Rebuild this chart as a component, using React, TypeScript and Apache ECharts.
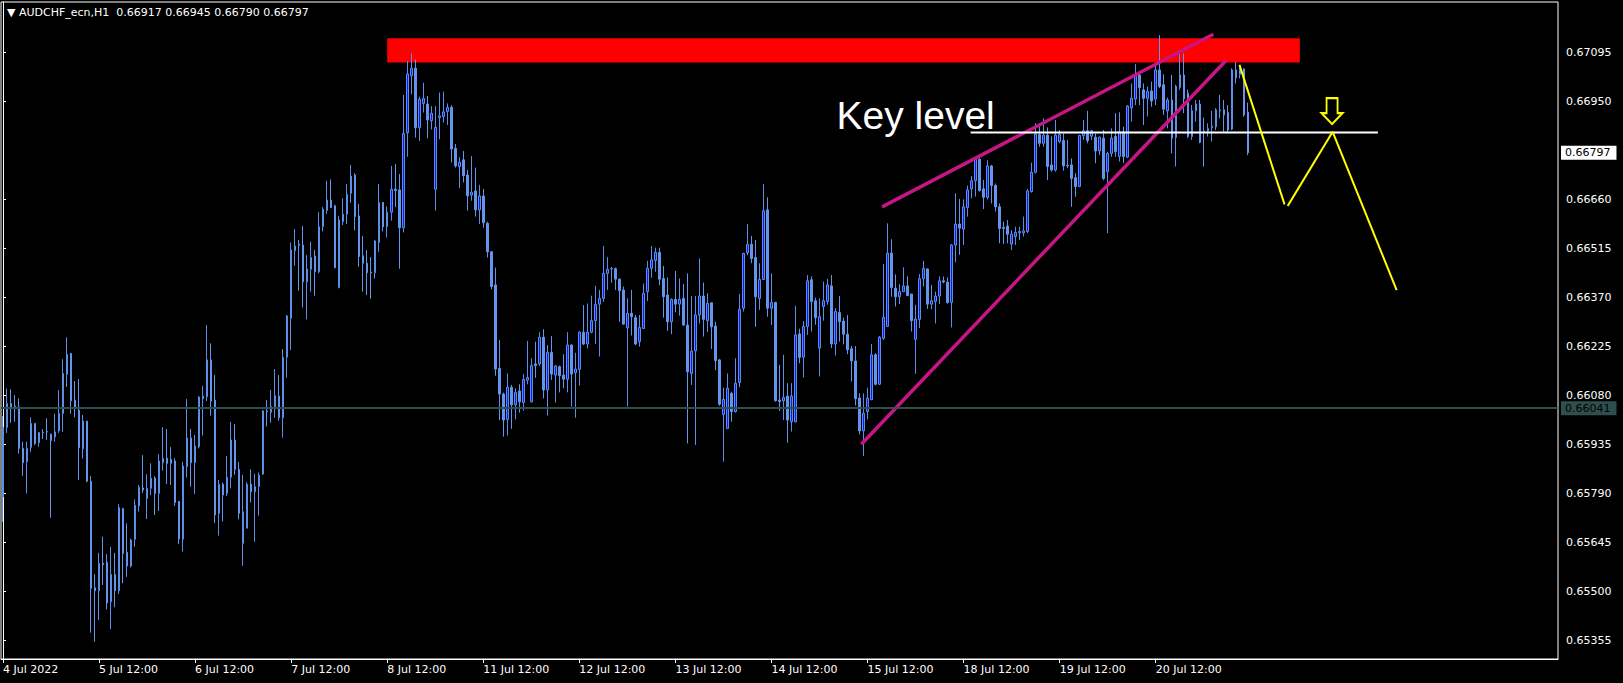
import React, { useEffect, useRef } from "react";
import * as echarts from "echarts";

// ---------- data (prices in points, 1 point = 0.00001) ----------
const symbolName = "AUDCHF_ecn,H1";
const POINT = 0.00001;

const open = [
65779,65984,66055,66047,66045,65922,65883,65925,65996,65939,65969,65972,65964,65956,65974,66025,66141,66203,66065,66035,
65921,66003,65825,65510,65501,65582,65585,65468,65549,65501,65744,65615,65574,65653,65752,65805,65774,65804,65834,65789,
65880,65893,65878,65885,65765,65653,65868,65953,65880,65927,66069,66075,66184,66065,65730,65816,65789,65837,65947,65860,
65641,65686,65816,65794,65809,65846,66033,66029,66046,66077,66013,66192,66307,66507,66526,66524,66415,66452,66491,66445,
66578,66626,66657,66640,66398,66593,66615,66677,66731,66610,66492,66470,66444,66442,66531,66650,66578,66621,66689,66687,
66575,66856,67025,67047,66871,66943,66941,66892,66689,66901,66904,66919,66931,66810,66756,66776,66731,66672,66684,66628,
66669,66588,66504,66406,66159,66083,66008,66103,66051,66092,66058,66124,66060,66172,66172,66251,66095,66206,66139,66164,
66139,66127,66228,66146,66156,66266,66231,66266,66300,66349,66366,66440,66453,66454,66423,66391,66279,66322,66309,66238,
66277,66386,66455,66478,66502,66425,66376,66297,66363,66349,66366,66287,66144,66211,66317,66373,66300,66353,66284,66184,
66023,65981,66085,66031,66117,66337,66501,66526,66487,66366,66422,66628,66337,66354,66065,66063,66077,66001,66001,66261,
66192,66283,66421,66359,66219,66342,66357,66403,66231,66324,66299,66260,66217,66181,66071,65974,66031,66066,66199,66112,
66248,66283,66500,66396,66371,66386,66403,66379,66245,66304,66424,66453,66349,66357,66373,66418,66414,66354,66524,66586,
66571,66635,66690,66714,66778,66690,66665,66758,66700,66637,66576,66580,66527,66549,66560,66560,66564,66682,66739,66851,
66825,66849,66761,66746,66830,66833,66758,66761,66723,66697,66847,66862,66846,66843,66802,66840,66741,66795,66845,66786,
66859,66784,66930,66956,67027,66983,66958,66980,66956,67042,66998,66921,66953,66842,66990,67027,66973,66845,66921,66941,
66861,66861,66871,66874,66921,66924,66916,66867,67042,67029,67045,66917
];
const high = [
66018,66099,66097,66080,66070,65942,65942,66014,65996,65971,65979,66011,65966,66025,66095,66186,66251,66205,66121,66127,
66021,66003,65840,65550,65613,65661,65609,65631,65613,65757,65746,65700,65655,65771,65814,65902,65846,65878,65840,65905,
65985,65980,65926,65893,65767,65883,66068,65980,65962,66077,66107,66287,66233,66139,65829,65821,65900,66001,65994,65882,
65844,65822,65860,65847,65851,66036,66065,66095,66157,66139,66216,66317,66531,66571,66539,66580,66494,66534,66509,66621,
66636,66714,66718,66643,66610,66662,66704,66761,66736,66645,66551,66509,66488,66539,66705,66651,66638,66758,66764,66734,
66968,67068,67091,67073,66963,67004,66965,66935,66935,66975,66978,66943,66938,66823,66784,66802,66746,66787,66753,66702,
66690,66593,66506,66457,66243,66087,66144,66110,66100,66112,66142,66240,66189,66238,66266,66275,66228,66255,66169,66167,
66201,66266,66230,66205,66269,66346,66351,66374,66403,66391,66521,66488,66459,66457,66425,66401,66366,66391,66317,66317,
66410,66477,66521,66516,66516,66462,66428,66366,66447,66425,66408,66440,66373,66373,66484,66413,66381,66353,66297,66187,
66102,66144,66090,66189,66379,66501,66586,66551,66539,66470,66704,66665,66440,66356,66169,66199,66115,66115,66344,66276,
66299,66435,66431,66368,66366,66416,66424,66435,66337,66373,66309,66317,66225,66225,66085,66085,66102,66231,66204,66255,
66468,66588,66541,66437,66408,66458,66431,66379,66347,66438,66477,66455,66406,66386,66431,66431,66428,66527,66677,66660,
66659,66700,66728,66780,66780,66716,66775,66761,66706,66647,66593,66598,66568,66578,66578,66608,66690,66768,66884,66884,
66899,66872,66845,66894,66864,66854,66835,66780,66736,66850,66894,66921,66864,66854,66845,66864,66800,66869,66914,66917,
66874,66938,67002,67059,67032,67002,66993,67007,67059,67145,67029,66960,67027,66998,67091,67091,66983,66938,66953,66953,
66901,66884,66921,66929,66968,66953,66938,67047,67065,67052,67047,66945
];
const low = [
65705,65968,65998,66001,65907,65841,65789,65912,65932,65927,65950,65947,65717,65942,65968,65971,66104,66025,66014,65829,
65892,65822,65377,65350,65414,65518,65446,65387,65452,65491,65523,65542,65570,65631,65735,65791,65713,65784,65725,65737,
65856,65817,65814,65752,65639,65617,65836,65809,65787,65922,65960,66062,66019,65701,65664,65706,65781,65804,65844,65712,
65575,65686,65762,65646,65723,65844,65987,65998,66013,66004,65954,66131,66213,66463,66389,66339,66304,66386,66374,66440,
66564,66616,66633,66455,66396,66583,66586,66649,66567,66460,66386,66376,66365,66425,66504,66564,66546,66596,66636,66454,
66561,66785,66970,66842,66832,66916,66840,66866,66626,66837,66886,66879,66768,66753,66692,66709,66626,66655,66608,66586,
66575,66487,66393,66137,66006,65957,65960,65980,66008,66028,66034,66112,66058,66131,66166,66070,66019,66125,66058,66088,
66100,66088,66046,66013,66108,66228,66218,66263,66231,66194,66356,66391,66412,66391,66297,66288,66046,66256,66228,66223,
66275,66358,66427,66445,66405,66309,66270,66260,66325,66315,66285,65937,66110,65932,66292,66253,66267,66216,66154,66048,
65883,65981,66001,66028,66103,66327,66494,66470,66282,66332,66420,66312,66287,66061,66033,66006,65939,65972,65999,66174,
66132,66258,66268,66288,66135,66300,66347,66219,66197,66238,66230,66201,66120,66049,65964,65900,66008,66066,66108,66110,
66243,66283,66371,66342,66349,66386,66374,66268,66143,66278,66401,66335,66334,66292,66349,66411,66350,66280,66473,66495,
66524,66608,66662,66667,66682,66630,66659,66647,66623,66529,66527,66529,66509,66524,66539,66549,66559,66679,66736,66815,
66815,66716,66741,66741,66825,66744,66751,66637,66667,66695,66835,66825,66835,66766,66790,66716,66559,66785,66785,66771,
66766,66781,66889,66938,66938,66879,66904,66933,66938,66988,66909,66869,66795,66756,66983,66914,66840,66835,66889,66825,
66756,66845,66830,66864,66899,66859,66859,66864,67002,67017,66904,66790
];
const close = [
65984,66055,66045,66043,65922,65880,65922,65996,65937,65969,65968,65971,65945,65971,66025,66144,66200,66063,66043,65924,
66003,65825,65508,65501,65582,65578,65465,65549,65501,65747,65611,65574,65651,65754,65807,65799,65804,65834,65789,65885,
65893,65878,65890,65762,65654,65870,65953,65880,65929,66074,66077,66184,66062,65725,65816,65784,65837,65947,65860,65730,
65735,65816,65794,65809,65843,66033,66031,66046,66078,66013,66192,66314,66509,66521,66523,66415,66453,66487,66445,66578,
66630,66657,66635,66457,66598,66615,66674,66728,66608,66490,66470,66442,66441,66536,66650,66578,66621,66689,66685,66575,
66854,67030,67047,66871,66955,66958,66894,66914,66872,66906,66918,66931,66808,66758,66769,66729,66670,66680,66628,66669,
66590,66504,66401,66157,66083,66006,66103,66051,66088,66060,66126,66132,66167,66167,66251,66095,66206,66142,66166,66137,
66127,66228,66142,66157,66266,66231,66266,66300,66348,66366,66440,66452,66454,66423,66389,66290,66322,66312,66231,66280,
66381,66455,66480,66502,66423,66371,66297,66363,66349,66363,66287,66149,66210,66317,66373,66304,66351,66282,66182,66053,
66067,66100,66031,66115,66334,66499,66526,66484,66371,66422,66625,66337,66354,66063,66061,66073,66006,66077,66258,66191,
66283,66418,66357,66309,66312,66359,66406,66231,66327,66297,66260,66214,66181,66069,65974,66026,66071,66199,66112,66251,
66310,66500,66398,66371,66386,66403,66374,66300,66305,66424,66455,66349,66359,66373,66418,66415,66354,66524,66586,66574,
66637,66687,66714,66777,66685,66665,66758,66700,66637,66573,66573,66556,66556,66561,66564,66566,66684,66739,66852,66825,
66849,66756,66746,66849,66851,66758,66760,66721,66697,66848,66862,66833,66862,66802,66843,66721,66795,66840,66800,66859,
66786,66935,66958,67027,66990,66958,66978,66950,67042,66993,66926,66953,66840,66993,67027,66956,66845,66921,66941,66828,
66859,66869,66876,66924,66924,66909,66864,67042,67019,67047,66909,66797
];

// time-axis labels, one every 24 hourly bars
const timeLabels = [
  "4 Jul 2022", "5 Jul 12:00", "6 Jul 12:00", "7 Jul 12:00", "8 Jul 12:00",
  "11 Jul 12:00", "12 Jul 12:00", "13 Jul 12:00", "14 Jul 12:00", "15 Jul 12:00",
  "18 Jul 12:00", "19 Jul 12:00", "20 Jul 12:00",
];
const barsPerLabel = 24;
const totalSlots = 389; // bars + empty chart shift on the right

// price axis
const priceTicks = [0.67095, 0.6695, 0.6666, 0.66515, 0.6637, 0.66225, 0.6608, 0.65935, 0.6579, 0.65645, 0.655, 0.65355];
const priceMin = 0.65299;
const priceMax = 0.67243;

// drawn objects (bar index, price)
const supportLevel = 0.66041;
const keyLevel = 0.66857;
const keyLevelSpan = [242, 343.25];
const resistanceZone = { from: 96, to: 324, top: 0.67136, bottom: 0.67064 };
const wedgeLower = [[214.75, 0.65938], [305.25, 0.67066]];
const wedgeUpper = [[220, 0.66639], [302, 0.67145]];
const projectionA = [[309, 0.67054], [320.1, 0.66647]];
const projectionB = [[321.1, 0.66642], [332.2, 0.66859], [348.1, 0.66393]];
const arrowPoint = [332.05, 0.6692];
const keyLabelPoint = [208.25, 0.66906];

const FONT = "DejaVu Sans";

export default function App() {
  const ref = useRef<HTMLDivElement>(null);

  useEffect(() => {
    document.body.style.margin = "0";
    document.body.style.background = "#000";
    if (!ref.current) return;
    const chart = echarts.init(ref.current, undefined, { renderer: "svg" });

    const n = open.length;
    const categories = Array.from({ length: totalSlots }, (_, i) => String(i));
    const isLabelled = (i: number) => i % barsPerLabel === 0 && i / barsPerLabel < timeLabels.length;
    const candles = open.map((o, i) => [o * POINT, close[i] * POINT, low[i] * POINT, high[i] * POINT]);
    const fmt = (p: number) => (p * POINT).toFixed(5);
    const last = n - 1;
    const header = `▼ ${symbolName}  ${fmt(open[last])} ${fmt(high[last])} ${fmt(low[last])} ${fmt(close[last])}`;

    const lineSeries = (name: string, data: number[][], color: string, width: number) => ({
      name,
      type: "line",
      xAxisIndex: 1,
      yAxisIndex: 0,
      data,
      symbol: "none",
      silent: true,
      z: 4,
      lineStyle: { color, width, cap: "square", opacity: 1 },
    });

    chart.setOption({
      animation: false,
      backgroundColor: "#000",
      title: {
        text: header,
        left: 7,
        top: 7,
        padding: 0,
        textStyle: { color: "#fff", fontSize: 11, fontFamily: FONT, fontWeight: "normal" },
      },
      grid: {
        left: 1,
        right: 65,
        top: 2,
        bottom: 24,
        show: true,
        borderColor: "#fff",
        borderWidth: 1,
        backgroundColor: "#000",
      },
      xAxis: [
        {
          type: "category",
          data: categories,
          boundaryGap: true,
          axisLine: { show: true, lineStyle: { color: "#fff", width: 1 } },
          axisTick: {
            show: true,
            alignWithLabel: true,
            interval: (i: number) => isLabelled(i),
            length: 4,
            lineStyle: { color: "#fff" },
          },
          axisLabel: {
            show: true,
            interval: (i: number) => isLabelled(i),
            formatter: (v: string) => timeLabels[Number(v) / barsPerLabel] ?? "",
            align: "left",
            color: "#fff",
            fontSize: 11,
            fontFamily: FONT,
            margin: 5,
          },
          splitLine: { show: false },
        },
        {
          type: "value",
          min: -0.5,
          max: totalSlots - 0.5,
          show: false,
        },
      ],
      yAxis: {
        type: "value",
        position: "right",
        min: priceMin,
        max: priceMax,
        axisLine: { show: true, lineStyle: { color: "#fff", width: 1 } },
        axisTick: { show: true, customValues: priceTicks, length: 3, lineStyle: { color: "#fff" } },
        axisLabel: {
          customValues: priceTicks,
          formatter: (v: number) => v.toFixed(5),
          color: "#fff",
          fontSize: 11,
          fontFamily: FONT,
          margin: 8,
        },
        splitLine: { show: false },
      },
      series: [
        {
          name: symbolName,
          type: "candlestick",
          xAxisIndex: 0,
          yAxisIndex: 0,
          data: candles,
          barWidth: 2,
          silent: true,
          itemStyle: {
            color: "#0a1cf0",
            color0: "#6495ed",
            borderColor: "#5b8ee6",
            borderColor0: "#6495ed",
            borderWidth: 1,
          },
          markArea: {
            silent: true,
            itemStyle: { color: "#ff0000", opacity: 1 },
            data: [
              [
                { coord: [resistanceZone.from, resistanceZone.top] },
                { coord: [resistanceZone.to, resistanceZone.bottom] },
              ],
            ],
          },
          markLine: {
            silent: true,
            symbol: "none",
            precision: 5,
            data: [
              {
                yAxis: supportLevel,
                lineStyle: { color: "#2f4f4f", width: 2, type: "solid", opacity: 1 },
                label: {
                  show: true,
                  position: "end",
                  distance: 3,
                  formatter: () => supportLevel.toFixed(5),
                  color: "#000",
                  backgroundColor: "#2f4f4f",
                  padding: [1, 6, 1, 4],
                  lineHeight: 12,
                  fontSize: 11,
                  fontFamily: FONT,
                },
              },
              {
                yAxis: close[last] * POINT,
                lineStyle: { color: "rgba(0,0,0,0)", width: 0 },
                label: {
                  show: true,
                  position: "end",
                  distance: 3,
                  formatter: () => fmt(close[last]),
                  color: "#000",
                  backgroundColor: "#fff",
                  padding: [1, 6, 1, 4],
                  lineHeight: 12,
                  fontSize: 11,
                  fontFamily: FONT,
                },
              },
            ],
          },
        },
        lineSeries("Rising wedge lower", wedgeLower, "#c71585", 3.5),
        lineSeries("Rising wedge upper", wedgeUpper, "#c71585", 3.5),
        lineSeries("Key level", [[keyLevelSpan[0], keyLevel], [keyLevelSpan[1], keyLevel]], "#ffffff", 2),
        lineSeries("Projection A", projectionA, "#ffff00", 2),
        lineSeries("Projection B", projectionB, "#ffff00", 2),
        {
          name: "Arrow",
          type: "scatter",
          xAxisIndex: 1,
          yAxisIndex: 0,
          data: [arrowPoint],
          symbol: "path://M5,0 L16,0 L16,15 L21,15 L10.5,26 L0,15 L5,15 Z",
          symbolSize: [21, 26],
          silent: true,
          z: 5,
          itemStyle: { color: "#000", borderColor: "#ffff00", borderWidth: 2, opacity: 1 },
        },
        {
          name: "Key level label",
          type: "scatter",
          xAxisIndex: 1,
          yAxisIndex: 0,
          data: [keyLabelPoint],
          symbolSize: 0,
          silent: true,
          z: 5,
          itemStyle: { opacity: 1 },
          label: {
            show: true,
            position: "right",
            distance: 0,
            formatter: "Key level",
            color: "#ffffff",
            opacity: 1,
            fontSize: 39,
            fontFamily: "Liberation Sans",
          },
        },
      ],
    });

    return () => chart.dispose();
  }, []);

  return <div ref={ref} style={{ width: 1623, height: 683, background: "#000" }} />;
}
